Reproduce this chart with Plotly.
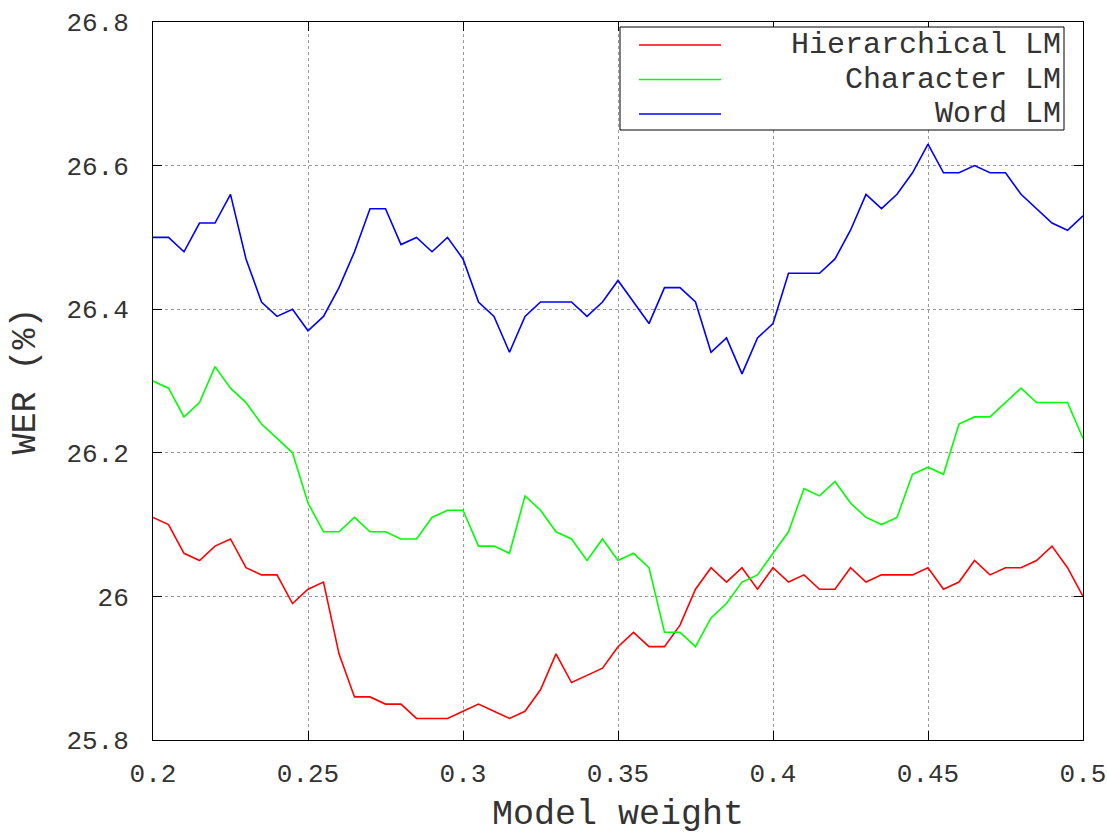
import plotly.graph_objects as go

# Model weight sweep (0.20 .. 0.50, step 0.005)
weights = [round(0.2 + 0.005 * i, 3) for i in range(61)]

hier_wer = [26.11, 26.10, 26.06, 26.05, 26.07, 26.08, 26.04, 26.03, 26.03, 25.99,
            26.01, 26.02, 25.92, 25.86, 25.86, 25.85, 25.85, 25.83, 25.83, 25.83,
            25.84, 25.85, 25.84, 25.83, 25.84, 25.87, 25.92, 25.88, 25.89, 25.90,
            25.93, 25.95, 25.93, 25.93, 25.96, 26.01, 26.04, 26.02, 26.04, 26.01,
            26.04, 26.02, 26.03, 26.01, 26.01, 26.04, 26.02, 26.03, 26.03, 26.03,
            26.04, 26.01, 26.02, 26.05, 26.03, 26.04, 26.04, 26.05, 26.07, 26.04,
            26.00]

char_wer = [26.30, 26.29, 26.25, 26.27, 26.32, 26.29, 26.27, 26.24, 26.22, 26.20,
            26.13, 26.09, 26.09, 26.11, 26.09, 26.09, 26.08, 26.08, 26.11, 26.12,
            26.12, 26.07, 26.07, 26.06, 26.14, 26.12, 26.09, 26.08, 26.05, 26.08,
            26.05, 26.06, 26.04, 25.95, 25.95, 25.93, 25.97, 25.99, 26.02, 26.03,
            26.06, 26.09, 26.15, 26.14, 26.16, 26.13, 26.11, 26.10, 26.11, 26.17,
            26.18, 26.17, 26.24, 26.25, 26.25, 26.27, 26.29, 26.27, 26.27, 26.27,
            26.22]

word_wer = [26.50, 26.50, 26.48, 26.52, 26.52, 26.56, 26.47, 26.41, 26.39, 26.40,
            26.37, 26.39, 26.43, 26.48, 26.54, 26.54, 26.49, 26.50, 26.48, 26.50,
            26.47, 26.41, 26.39, 26.34, 26.39, 26.41, 26.41, 26.41, 26.39, 26.41,
            26.44, 26.41, 26.38, 26.43, 26.43, 26.41, 26.34, 26.36, 26.31, 26.36,
            26.38, 26.45, 26.45, 26.45, 26.47, 26.51, 26.56, 26.54, 26.56, 26.59,
            26.63, 26.59, 26.59, 26.60, 26.59, 26.59, 26.56, 26.54, 26.52, 26.51,
            26.53]

series_names = ["Hierarchical LM", "Character LM", "Word LM"]
series_colors = ["#ff0000", "#00ff00", "#0000ff"]
series_values = [hier_wer, char_wer, word_wer]

x_tickvals = [0.2, 0.25, 0.3, 0.35, 0.4, 0.45, 0.5]
x_ticktext = ["0.2", "0.25", "0.3", "0.35", "0.4", "0.45", "0.5"]
y_tickvals = [25.8, 26.0, 26.2, 26.4, 26.6, 26.8]
y_ticktext = ["25.8", "26", "26.2", "26.4", "26.6", "26.8"]

FONT = "Liberation Mono, Courier New, monospace"
TEXT_COLOR = "#333333"
W, H = 1107, 835
ML, MR, MT, MB = 153, 24, 22, 95
PW, PH = W - ML - MR, H - MT - MB


def px_x(p):
    return (p - ML) / PW


def px_y(p):
    return (H - MB - p) / PH


fig = go.Figure()
for name, color, vals in zip(series_names, series_colors, series_values):
    fig.add_trace(go.Scatter(x=weights, y=vals, mode="lines", name=name,
                             line=dict(color=color, width=1.6),
                             showlegend=False))

# Key box in the top-right corner, text right-aligned like a gnuplot key
KEY_FONT = 30
row_y = [45, 79.5, 114]
shapes = [dict(type="rect", xref="paper", yref="paper",
               x0=px_x(620), x1=px_x(1064), y0=px_y(130), y1=px_y(27),
               line=dict(color="black", width=1), fillcolor="white", layer="above")]
annotations = []
for name, color, ry in zip(series_names, series_colors, row_y):
    shapes.append(dict(type="line", xref="paper", yref="paper",
                       x0=px_x(639), x1=px_x(721), y0=px_y(ry), y1=px_y(ry),
                       line=dict(color=color, width=1.6), layer="above"))
    annotations.append(dict(xref="paper", yref="paper", x=px_x(1062), y=px_y(ry),
                            text=name, showarrow=False, xanchor="right",
                            yanchor="middle", borderpad=0,
                            font=dict(family=FONT, size=KEY_FONT, color=TEXT_COLOR)))

axis_common = dict(showline=True, linecolor="black", linewidth=1, mirror="ticks",
                   ticks="inside", ticklen=9, tickcolor="black", tickwidth=1,
                   showgrid=True, gridcolor="#999999", griddash="dot", gridwidth=1,
                   zeroline=False, automargin=False,
                   tickfont=dict(family=FONT, size=26, color=TEXT_COLOR))

fig.update_layout(
    width=W, height=H,
    margin=dict(l=ML, r=MR, t=MT, b=MB, pad=0, autoexpand=False),
    plot_bgcolor="white", paper_bgcolor="white",
    xaxis=dict(range=[0.2, 0.5], tickvals=x_tickvals, ticktext=x_ticktext,
               ticklabelstandoff=10,
               title=dict(text="Model weight", font=dict(family=FONT, size=35, color=TEXT_COLOR),
                          standoff=19),
               **axis_common),
    yaxis=dict(range=[25.8, 26.8], tickvals=y_tickvals, ticktext=y_ticktext,
               ticklabelstandoff=18,
               title=dict(text="WER (%)", font=dict(family=FONT, size=35, color=TEXT_COLOR),
                          standoff=20),
               **axis_common),
    shapes=shapes,
    annotations=annotations,
)

fig.write_html("out.html")
